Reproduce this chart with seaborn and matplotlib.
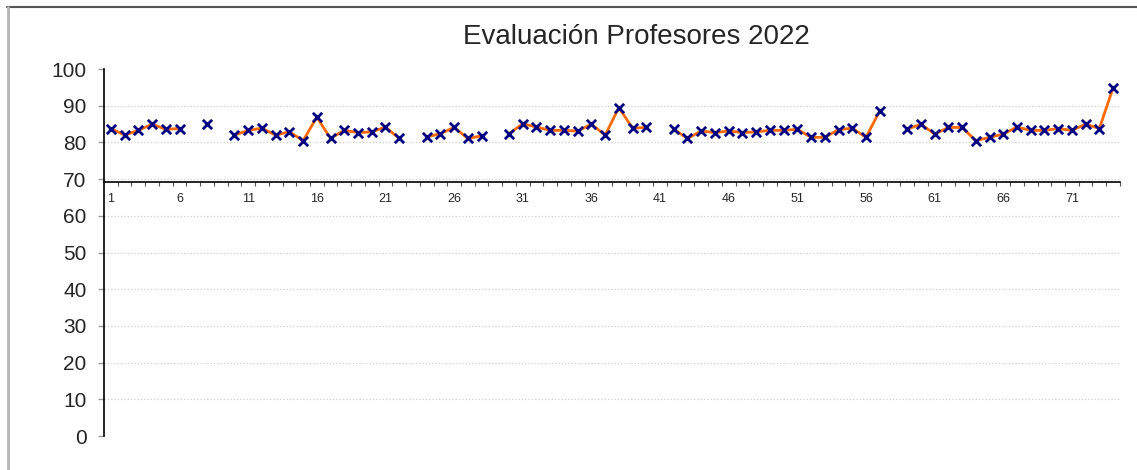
import numpy as np
import pandas as pd
import matplotlib
matplotlib.use('Agg')
import matplotlib.pyplot as plt
from matplotlib.lines import Line2D
from matplotlib.ticker import MultipleLocator, FixedLocator
import seaborn as sns

# evaluation score per teacher (NaN = no value)
teacher = list(range(1, 75))
score = [83.8, 82.0, 83.3, 85.0, 83.6, 83.8, np.nan, 85.0, np.nan, 82.0,
         83.3, 83.9, 82.0, 82.9, 80.5, 86.9, 81.1, 83.3, 82.7, 82.9,
         84.2, 81.1, np.nan, 81.5, 82.4, 84.1, 81.1, 81.8, np.nan, 82.4,
         85.1, 84.2, 83.3, 83.3, 83.1, 85.0, 82.0, 89.5, 83.9, 84.1,
         np.nan, 83.6, 81.1, 83.1, 82.7, 83.1, 82.7, 82.9, 83.3, 83.3,
         83.6, 81.4, 81.4, 83.5, 83.9, 81.4, 88.6, np.nan, 83.6, 85.0,
         82.3, 84.1, 84.1, 80.5, 81.4, 82.3, 84.2, 83.3, 83.3, 83.8,
         83.3, 85.0, 83.8, 94.9]
title = "Evaluación Profesores 2022"

df = pd.DataFrame({'teacher': teacher, 'score': score})
# contiguous runs so the line breaks at missing values
df['seg'] = df['score'].isna().cumsum()
valid = df.dropna()

sns.set_style('white')
plt.rcParams['font.family'] = ['Liberation Sans', 'DejaVu Sans']

fig = plt.figure(figsize=(11.37, 4.70), dpi=100)
ax = fig.add_axes([0.0915, 0.0723, 0.8935, 0.7807])

sns.lineplot(data=valid, x='teacher', y='score', units='seg', estimator=None,
             color='#ff6a00', linewidth=2, ax=ax, zorder=2)
sns.scatterplot(data=valid, x='teacher', y='score', marker='x', color='#000080',
                s=45, linewidth=2, ax=ax, zorder=3)

ax.set_xlim(0.5, 74.5)
ax.set_ylim(0, 100)
ax.set_xlabel('')
ax.set_ylabel('')

ax.yaxis.set_major_locator(MultipleLocator(10))
ax.grid(False)
# dotted gridlines 10..90 (none on the 100 line)
for gy in range(10, 100, 10):
    ax.axhline(gy, linestyle=':', color='#cfcfcf', linewidth=0.9, zorder=0)

ax.xaxis.set_major_locator(FixedLocator(teacher[::5]))
ax.xaxis.set_minor_locator(FixedLocator(np.arange(1.5, 75, 1)))

ax.spines['top'].set_visible(False)
ax.spines['right'].set_visible(False)
ax.spines['bottom'].set_position(('data', 69.2))
ax.spines['bottom'].set_color('black')
ax.spines['bottom'].set_linewidth(1.2)
ax.spines['left'].set_color('black')
ax.spines['left'].set_linewidth(1.2)

ax.tick_params(axis='y', which='major', left=True, length=4.5, width=1,
               color='#999999', labelsize=15, pad=8)
ax.tick_params(axis='x', which='major', bottom=True, length=0, labelsize=9, pad=8)
ax.tick_params(axis='x', which='minor', bottom=True, length=3, width=0.8,
               color='#555555', direction='out')

fig.text(0.56, 0.922, title, ha='center', va='center', fontsize=20)

# chart frame (top and left edges)
fig.add_artist(Line2D([0.006, 1.0], [0.985, 0.985], color='#555555', linewidth=1.5,
                      transform=fig.transFigure))
fig.add_artist(Line2D([0.007, 0.007], [0.0, 0.985], color='#b4b4b4', linewidth=2,
                      transform=fig.transFigure))

fig.savefig('out.png', dpi=100)
